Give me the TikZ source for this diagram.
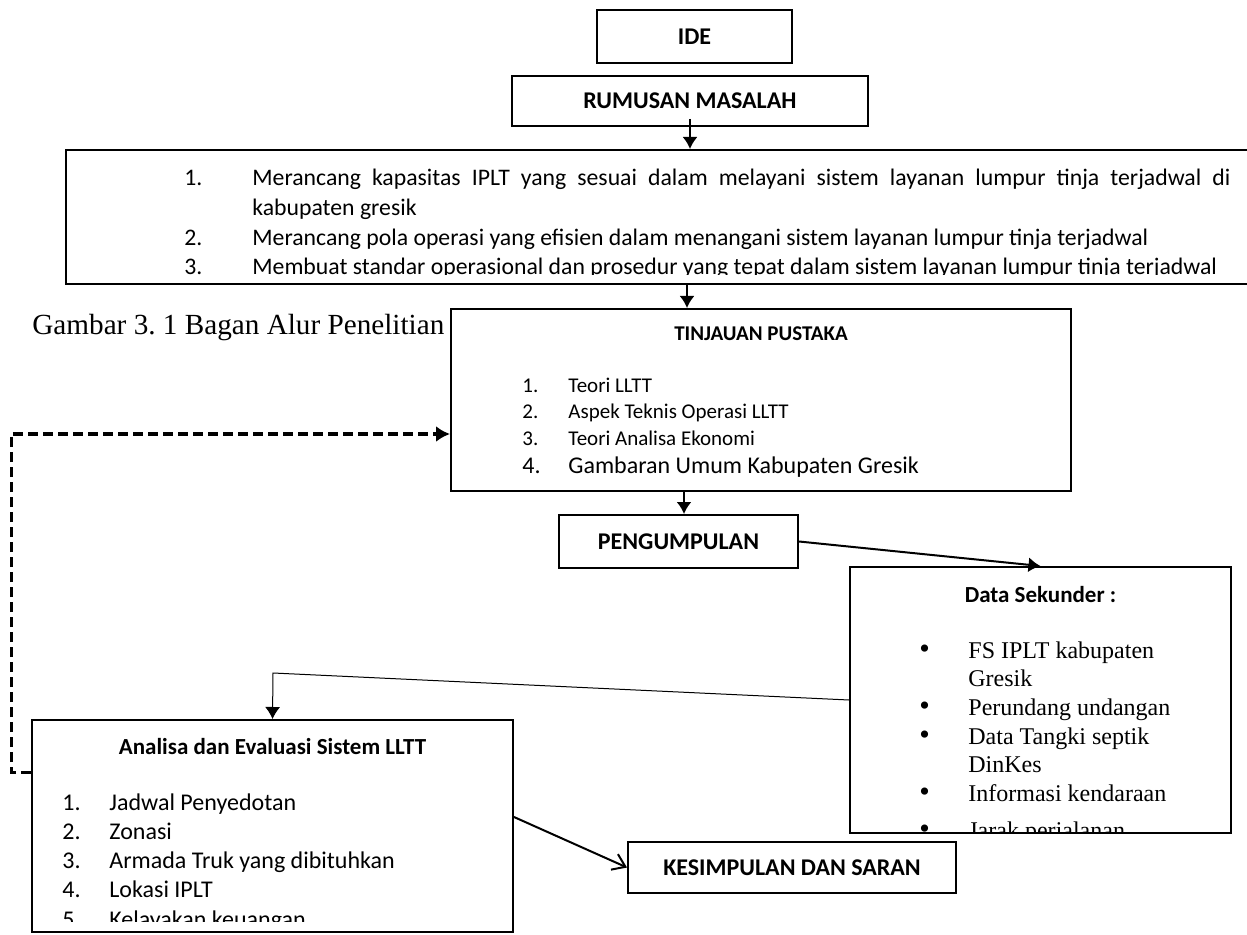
\documentclass[tikz,border=0pt]{standalone}
\usepackage{fontspec}
\setmainfont{Carlito}
\newfontfamily\timesfont{Liberation Serif}
\usepackage{array}
\usetikzlibrary{arrows.meta,positioning}
\tikzset{line/.style={draw, line width=1pt, -{Latex[length=6pt,width=7.5pt]}}}
\newcommand{\bigbullet}{{\fontsize{15}{14}\selectfont\textbullet}}

\begin{document}
\frenchspacing
\begin{tikzpicture}[x=0.5pt,y=-0.5pt]
\tikzstyle{block} = [rectangle, draw, line width=1pt, inner sep=0pt, font=\bfseries\fontsize{12}{14.4}\selectfont]
\tikzstyle{listtext} = [inner sep=0pt, anchor=base west]
\tikzstyle{title} = [inner sep=0pt, anchor=base, font=\bfseries\fontsize{11.5}{14}\selectfont]
\tikzstyle{dashline} = [draw, line width=1.5pt, dash pattern=on 5pt off 2.5pt, -{Latex[length=7pt,width=8pt]}]

\useasboundingbox (0,0) rectangle (1247,935);
\clip (0,0) rectangle (1247,935);

% blocks
    \node [block, minimum width=97.5pt, minimum height=26.5pt] (ide) at (694.5,36.5) {IDE};
    \node [block, minimum width=178pt, minimum height=25pt] (rumusan) at (690,101) {RUMUSAN MASALAH};
    \node [block, minimum width=598pt, minimum height=67pt] (masalah) at (664,217) {};
    \node [block, minimum width=310pt, minimum height=91pt] (tinjauan) at (761,400) {};
    \node [block, minimum width=119.5pt, minimum height=26.5pt] (pengumpulan) at (678.5,541.5) {PENGUMPULAN};
    \node [block, minimum width=190.5pt, minimum height=133pt] (sekunder) at (1040.5,700) {};
    \node [block, minimum width=240.5pt, minimum height=106pt] (analisa) at (272.5,826) {};
    \node [block, minimum width=164pt, minimum height=25.5pt] (kesimpulan) at (792,867.5) {KESIMPULAN DAN SARAN};
    \node [listtext, font=\timesfont\fontsize{14.6}{17}\selectfont] (caption) at (32,335) {Gambar 3. 1 Bagan Alur Penelitian};

% texts
    % rumusan masalah
    \begin{scope}
    \clip (masalah.north west) rectangle ([yshift=5pt]masalah.south east);
    \node [listtext] (masalahlist) at (184,186) {\fontsize{11.87}{14.8}\selectfont
    \begin{tabular}[t]{@{}p{34pt}@{}p{489pt}@{}}
    1. & Merancang kapasitas IPLT yang sesuai dalam melayani sistem layanan lumpur tinja terjadwal di\linebreak kabupaten gresik \\
    2. & Merancang pola operasi yang efisien dalam menangani sistem layanan lumpur tinja terjadwal \\
    3. & Membuat standar operasional dan prosedur yang tepat dalam sistem layanan lumpur tinja terjadwal
    \end{tabular}};
    \end{scope}
    % tinjauan pustaka
    \node [title, font=\bfseries\fontsize{10.5}{12.6}\selectfont] (tinjauantitle) at (761,341) {TINJAUAN PUSTAKA};
    \node [listtext] (tinjauanlist) at (522,393) {\fontsize{10.5}{13}\selectfont
    \begin{tabular}[t]{@{}p{23pt}@{}l@{}}
    1. & Teori LLTT \\
    2. & Aspek Teknis Operasi LLTT \\[0.5pt]
    3. & Teori Analisa Ekonomi \\[1pt]
    \fontsize{12}{14}\selectfont 4. & \fontsize{12}{14}\selectfont Gambaran Umum Kabupaten Gresik
    \end{tabular}};
    % data sekunder
    \node [title] (sekundertitle) at (1040.5,602) {Data Sekunder :};
    \begin{scope}
    \clip (sekunder.north west) rectangle ([yshift=1pt]sekunder.south east);
    \node [listtext] (sekunderlist) at (919,658) {\timesfont\fontsize{12}{14.35}\selectfont
    \begin{tabular}[t]{@{}p{24.5pt}@{}l@{}}
    \bigbullet & FS IPLT kabupaten \\
     & Gresik \\
    \bigbullet & Perundang undangan \\
    \bigbullet & Data Tangki septik \\
     & DinKes \\
    \bigbullet & Informasi kendaraan \\[4pt]
    \bigbullet & Jarak perjalanan
    \end{tabular}};
    \end{scope}
    % analisa
    \node [title] (analisatitle) at (272.5,754) {Analisa dan Evaluasi Sistem LLTT};
    \begin{scope}
    \clip (analisa.north west) rectangle ([yshift=6pt]analisa.south east);
    \node [listtext] (analisalist) at (62,810) {\fontsize{12}{14.65}\selectfont
    \begin{tabular}[t]{@{}p{23.5pt}@{}l@{}}
    1. & Jadwal Penyedotan \\
    2. & Zonasi \\
    3. & Armada Truk yang dibituhkan \\
    4. & Lokasi IPLT \\
    5. & Kelayakan keuangan
    \end{tabular}};
    \end{scope}

% arrows
    \coordinate (tinjauanin) at ([xshift=-37pt]tinjauan.north);
    \coordinate (pengumpulanin) at ([xshift=2.75pt]pengumpulan.north);
    \coordinate (bend) at (273,673);
    \coordinate (loop) at (11,434);
    \path [line] ([yshift=4pt]rumusan.south) -- (rumusan.south |- masalah.north);
    \path [line] (masalah.south -| tinjauanin) -- (tinjauanin);
    \path [line] (tinjauan.south -| pengumpulanin) -- (pengumpulanin);
    \path [line] (pengumpulan.east) -- (sekunder.north);
    \path [line, line width=0.5pt] (sekunder.west) -- (bend) -- (analisa.north);
    \path [draw, line width=1pt, -{Straight Barb[length=6pt,width=8.5pt]}] ([yshift=4.5pt]analisa.east) -- (kesimpulan.west);
    % feedback
    \path [dashline] ([yshift=27pt]analisa.west) -| (loop) -- (tinjauan.west |- loop);
\end{tikzpicture}
\end{document}
